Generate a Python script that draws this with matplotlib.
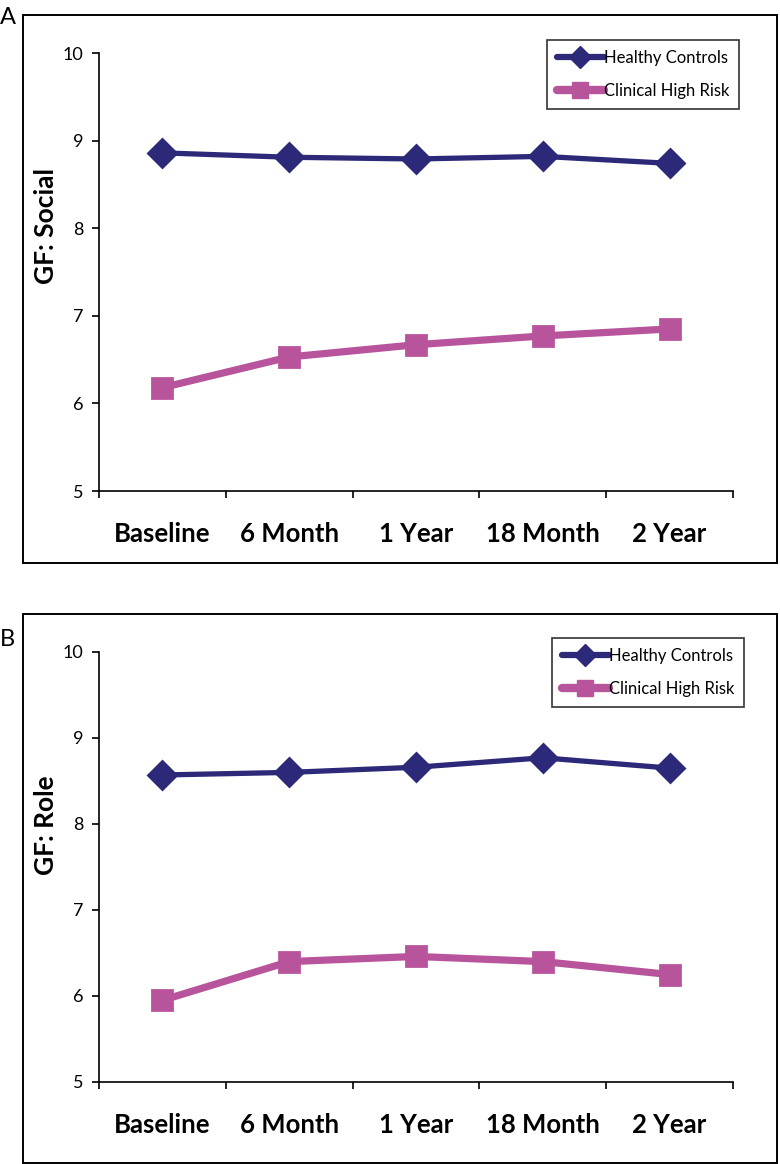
#! /bin/env python3

import matplotlib
matplotlib.use("Agg")
import matplotlib.pyplot as plt
from matplotlib.patches import Rectangle
from matplotlib.lines import Line2D

# data
timepoints = ["Baseline", "6 Month", "1 Year", "18 Month", "2 Year"]
social_hc = [8.86, 8.81, 8.79, 8.82, 8.74]
social_chr = [6.18, 6.53, 6.67, 6.77, 6.85]
role_hc = [8.57, 8.60, 8.66, 8.77, 8.65]
role_chr = [5.95, 6.40, 6.46, 6.40, 6.25]
y_ticks = [5, 6, 7, 8, 9, 10]

NAVY = "#2c2a78"
PINK = "#b8549c"

plt.rcParams["font.family"] = ["Lato", "DejaVu Sans"]


def draw_panel(fig, rect, frame, letter, letter_y, hc, chr_, ylabel, ylabel_y, legend_pos):
    W, H = 780, 1164
    # outer frame around the panel
    fx0, fy0, fx1, fy1 = frame
    fig.patches.append(
        Rectangle((fx0 / W, 1 - fy1 / H), (fx1 - fx0) / W, (fy1 - fy0) / H,
                  transform=fig.transFigure, fill=False, lw=1.4, ec="black")
    )
    fig.text(0.0, 1 - letter_y / H, letter, fontsize=17, va="center", ha="left")

    ax = fig.add_axes(rect)
    x = list(range(len(timepoints)))
    ax.plot(x, hc, color=NAVY, lw=3.8, marker="D", ms=14, mew=2,
            solid_joinstyle="round", label="Healthy Controls")
    ax.plot(x, chr_, color=PINK, lw=5.2, marker="s", ms=15, mew=2,
            solid_joinstyle="round", label="Clinical High Risk")
    for l in ax.lines:
        l.set_markeredgecolor(l.get_color())
        l.set_markerfacecolor(l.get_color())

    ax.set_xlim(-0.5, len(timepoints) - 0.5)
    ax.set_ylim(5, 10)
    ax.set_yticks(y_ticks)
    ax.set_yticklabels([str(v) for v in y_ticks], fontsize=13)
    ax.set_xticks([i - 0.5 for i in range(len(timepoints) + 1)])
    ax.set_xticklabels([])
    ax.set_xticks(x, minor=True)
    ax.set_xticklabels(timepoints, minor=True, fontsize=18.5, fontweight="bold")
    ax.tick_params(axis="x", which="minor", length=0, pad=22)
    ax.tick_params(axis="x", which="major", length=5, width=1.2, direction="out")
    ax.tick_params(axis="y", length=5, width=1.2, pad=6)
    for s in ["top", "right"]:
        ax.spines[s].set_visible(False)
    for s in ["left", "bottom"]:
        ax.spines[s].set_linewidth(1.2)

    fig.text(46 / W, 1 - ylabel_y / H, ylabel, rotation=90,
             fontsize=19, fontweight="bold", ha="center", va="center")

    handles = [
        Line2D([], [], color=NAVY, lw=4.5, marker="D", ms=11, solid_capstyle="round"),
        Line2D([], [], color=PINK, lw=6.0, marker="s", ms=12, solid_capstyle="round"),
    ]
    leg = ax.legend(handles, ["Healthy Controls", "Clinical High Risk"],
                    loc="upper left", bbox_to_anchor=legend_pos,
                    bbox_transform=fig.transFigure, fontsize=12,
                    frameon=True, fancybox=False, edgecolor="black",
                    handlelength=2.8, handletextpad=0.0, borderpad=0.6,
                    labelspacing=1.0, borderaxespad=0)
    leg.get_frame().set_linewidth(1.2)
    return ax


def main():
    fig = plt.figure(figsize=(7.8, 11.64), dpi=100)
    W, H = 780, 1164

    draw_panel(fig, [99 / W, 1 - 491 / H, 634 / W, 438 / H],
               (23, 15, 777, 563), "A", 17, social_hc, social_chr,
               "GF: Social", 226, (547 / W, 1 - 40 / H))
    draw_panel(fig, [99 / W, 1 - 1082 / H, 634 / W, 430 / H],
               (23, 614, 777, 1163), "B", 640, role_hc, role_chr,
               "GF: Role", 825, (552 / W, 1 - 638 / H))

    fig.savefig("out.png", dpi=100)


if __name__ == "__main__":
    main()
